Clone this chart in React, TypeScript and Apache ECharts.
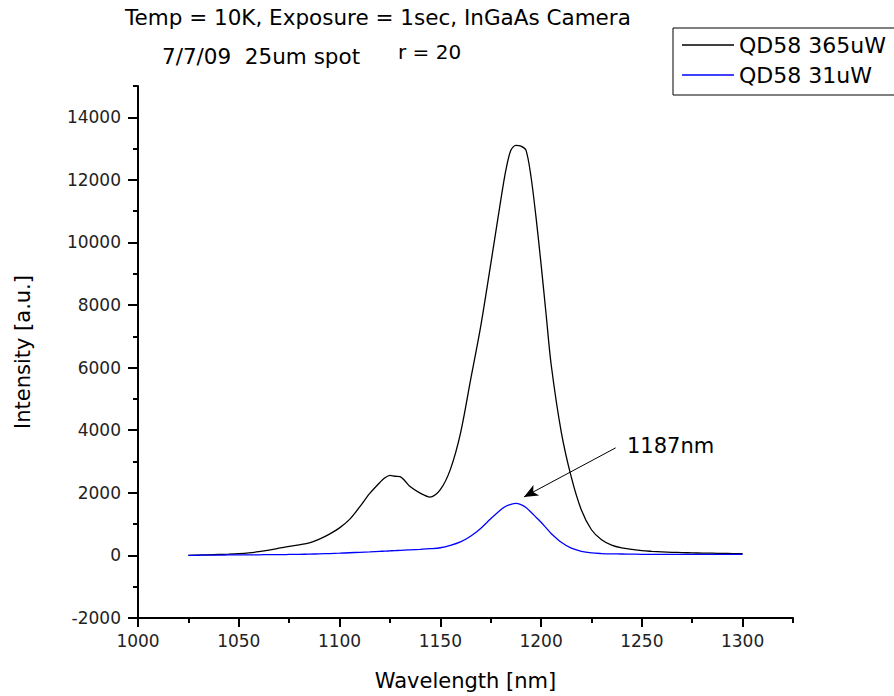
import React, { useEffect, useRef } from "react";
import * as echarts from "echarts";

const wavelengths = [
  1025, 1030, 1035, 1040, 1045, 1050, 1055, 1060, 1065, 1070, 1075, 1080, 1085, 1090, 1095, 1100,
  1105, 1110, 1115, 1120, 1122.5, 1125, 1127.5, 1130, 1132.5, 1135, 1140, 1145, 1150, 1155, 1160,
  1165, 1170, 1175, 1180, 1182.5, 1185, 1187.5, 1190, 1192.5, 1195, 1197.5, 1200, 1202.5, 1205,
  1210, 1215, 1220, 1225, 1230, 1235, 1240, 1245, 1250, 1255, 1260, 1265, 1270, 1275, 1280, 1285,
  1290, 1295, 1300,
];

const qd58_365uW = [
  0, 10, 20, 30, 40, 55, 80, 120, 170, 230, 290, 340, 400, 520, 680, 880,
  1150, 1550, 1980, 2330, 2480, 2560, 2530, 2520, 2380, 2200, 1990, 1860, 2100, 2750, 3900,
  5600, 7300, 9300, 11350, 12300, 12950, 13100, 13080, 12950, 12100, 10800, 9300, 7700, 6100,
  3950, 2500, 1450, 820, 500, 330, 240, 190, 150, 130, 115, 100, 90, 80, 75, 70,
  65, 60, 55,
];

const qd58_31uW = [
  0, 5, 10, 10, 15, 15, 20, 20, 25, 25, 30, 35, 40, 50, 60, 70,
  85, 100, 115, 130, 135, 145, 155, 160, 170, 180, 195, 215, 245, 320, 430,
  610, 860, 1170, 1460, 1570, 1630, 1660, 1620, 1530, 1380, 1220, 1060, 880, 700,
  420, 230, 130, 80, 60, 50, 45, 40, 35, 35, 30, 30, 30, 30, 30, 30,
  30, 30, 30,
];

const seriesNames = ["QD58 365uW", "QD58 31uW"];
const seriesColors = ["#000000", "#0000ff"];
const xMajorTicks = [1000, 1050, 1100, 1150, 1200, 1250, 1300];
const yMajorTicks = [-2000, 0, 2000, 4000, 6000, 8000, 10000, 12000, 14000];

const titleLine1 = "Temp = 10K, Exposure = 1sec, InGaAs Camera";
const titleLine2a = "7/7/09  25um spot";
const titleLine2b = "r = 20";
const peakLabel = "1187nm";
const arrowFrom = [1237, 3437];
const arrowTo = [1191.5, 1869];

const FONT = "DejaVu Sans";

export default function App() {
  const ref = useRef<HTMLDivElement>(null);
  useEffect(() => {
    if (!ref.current) return;
    const chart = echarts.init(ref.current, null, { renderer: "svg" });
    const pairs = (vals: number[]) => wavelengths.map((w, i) => [w, vals[i]]);
    const axisLabelStyle = {
      fontFamily: FONT,
      fontSize: 17,
      color: "#222",
      formatter: (v: number) => String(v),
    };
    chart.setOption({
      animation: false,
      backgroundColor: "#fff",
      grid: { left: 138, right: 101, top: 86, bottom: 77, containLabel: false },
      legend: {
        orient: "vertical",
        left: 673,
        top: 28,
        padding: [6, 40, 9, 9],
        itemGap: 8,
        itemWidth: 52,
        itemHeight: 1.5,
        borderColor: "#000",
        borderWidth: 1,
        textStyle: { fontFamily: FONT, fontSize: 22, color: "#000" },
        data: seriesNames.map((n) => ({ name: n, icon: "rect" })),
      },
      xAxis: [
        {
          type: "value",
          min: 1000,
          max: 1325,
          interval: 50,
          name: "Wavelength [nm]",
          nameLocation: "middle",
          nameGap: 52,
          nameTextStyle: { fontFamily: FONT, fontSize: 21, color: "#000" },
          axisLine: { show: true, onZero: false, lineStyle: { color: "#000", width: 2 } },
          axisTick: { show: true, length: 9, customValues: xMajorTicks, lineStyle: { color: "#000", width: 2 } },
          axisLabel: { ...axisLabelStyle, margin: 14, customValues: xMajorTicks },
          splitLine: { show: false },
        },
        {
          type: "value",
          min: 1000,
          max: 1325,
          interval: 25,
          position: "bottom",
          axisLine: { show: false, onZero: false },
          axisTick: { show: true, length: 5, lineStyle: { color: "#000", width: 2 } },
          axisLabel: { show: false },
          splitLine: { show: false },
        },
      ],
      yAxis: [
        {
          type: "value",
          min: -2000,
          max: 15000,
          interval: 2000,
          name: "Intensity [a.u.]",
          nameLocation: "middle",
          nameGap: 105,
          nameTextStyle: { fontFamily: FONT, fontSize: 21, color: "#000" },
          axisLine: { show: true, onZero: false, lineStyle: { color: "#000", width: 2 } },
          axisTick: { show: true, length: 10, customValues: yMajorTicks, lineStyle: { color: "#000", width: 2 } },
          axisLabel: { ...axisLabelStyle, margin: 17, customValues: yMajorTicks },
          splitLine: { show: false },
        },
        {
          type: "value",
          min: -2000,
          max: 15000,
          interval: 1000,
          position: "left",
          axisLine: { show: false, onZero: false },
          axisTick: { show: true, length: 5, lineStyle: { color: "#000", width: 2 } },
          axisLabel: { show: false },
          splitLine: { show: false },
        },
      ],
      series: [
        {
          name: seriesNames[0],
          type: "line",
          xAxisIndex: 0,
          yAxisIndex: 0,
          data: pairs(qd58_365uW),
          smooth: 0.3,
          symbol: "none",
          lineStyle: { color: seriesColors[0], width: 1.3 },
          itemStyle: { color: seriesColors[0] },
          z: 2,
        },
        {
          name: seriesNames[1],
          type: "line",
          xAxisIndex: 0,
          yAxisIndex: 0,
          data: pairs(qd58_31uW),
          smooth: 0.3,
          symbol: "none",
          lineStyle: { color: seriesColors[1], width: 1.3 },
          itemStyle: { color: seriesColors[1] },
          z: 3,
          markLine: {
            silent: true,
            symbol: ["none", "arrow"],
            symbolSize: [9, 14],
            label: { show: false },
            lineStyle: { color: "#000", width: 1, type: "solid" },
            data: [[{ coord: arrowFrom }, { coord: arrowTo }]],
          },
        },
      ],
      graphic: [
        {
          type: "text",
          left: 125,
          top: 6,
          style: { text: titleLine1, fontFamily: FONT, fontSize: 21.5, fill: "#000" },
        },
        {
          type: "text",
          left: 162,
          top: 45,
          style: { text: titleLine2a, fontFamily: FONT, fontSize: 21.5, fill: "#000" },
        },
        {
          type: "text",
          left: 398,
          top: 42,
          style: { text: titleLine2b, fontFamily: FONT, fontSize: 20, fill: "#000" },
        },
        {
          type: "text",
          left: 627,
          top: 435,
          style: { text: peakLabel, fontFamily: FONT, fontSize: 21, fill: "#000" },
        },
      ],
    });
    return () => chart.dispose();
  }, []);
  return (
    <div
      ref={ref}
      style={{ position: "absolute", left: 0, top: 0, width: 894, height: 696 }}
    />
  );
}
